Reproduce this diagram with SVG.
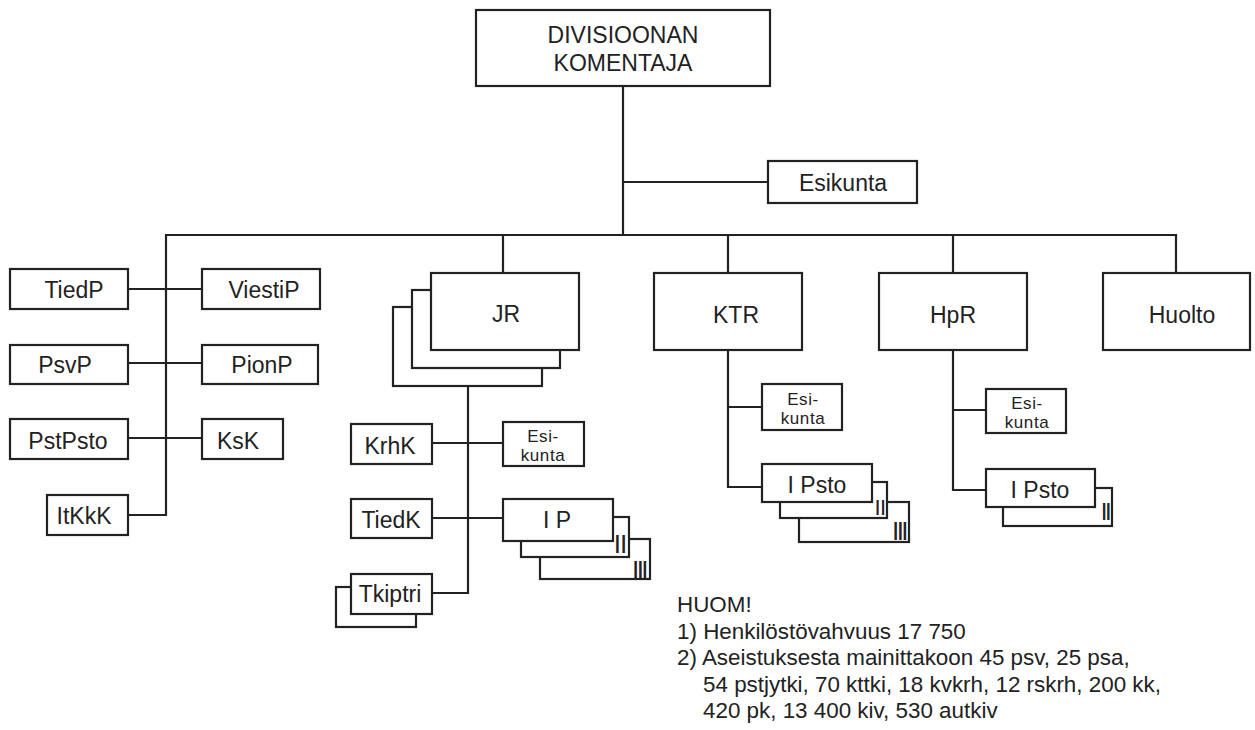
<svg xmlns="http://www.w3.org/2000/svg" width="1255" height="730" viewBox="0 0 1255 730">
<style>
.b{fill:#fff;stroke:#222;stroke-width:2.2}
.c{fill:none;stroke:#222;stroke-width:2.2}
text{font-family:"Liberation Sans",Arial,sans-serif;fill:#222;font-size:23px;text-anchor:middle}
.s{font-size:17px;letter-spacing:0.6px}
.n{font-size:22.4px;text-anchor:start}
.r{font-size:26px}
</style>
<rect width="1255" height="730" fill="#fff"/>
<g id="connectors">
<path class="c" d="M623 86V235M623 182H768M128 515H166V235H1176V273M503 235V273M728 235V273M953 235V273"/>
<path class="c" d="M128 289H202M128 363H202M128 438H202"/>
<path class="c" d="M468 386V593H432M432 443H503M432 518H503"/>
<path class="c" d="M728 350V487H762M728 407H762"/>
<path class="c" d="M953 350V490H986M953 410H986"/>
</g>
<g id="komentaja"><rect class="b" x="476" y="10" width="294" height="76"/><text x="623" y="43">DIVISIOONAN</text><text x="623" y="71">KOMENTAJA</text></g>
<g id="esikunta"><rect class="b" x="768" y="161" width="149" height="42"/><text x="843" y="191">Esikunta</text></g>
<g id="tiedp"><rect class="b" x="10" y="269" width="118" height="40"/><text x="74" y="298">TiedP</text></g>
<g id="viestip"><rect class="b" x="202" y="269" width="118" height="40"/><text x="264" y="298">ViestiP</text></g>
<g id="psvp"><rect class="b" x="10" y="345" width="118" height="39"/><text x="65" y="373">PsvP</text></g>
<g id="pionp"><rect class="b" x="202" y="345" width="116" height="39"/><text x="262" y="373">PionP</text></g>
<g id="pstpsto"><rect class="b" x="10" y="419" width="118" height="40"/><text x="68" y="449">PstPsto</text></g>
<g id="ksk"><rect class="b" x="202" y="419" width="81" height="40"/><text x="238" y="449">KsK</text></g>
<g id="itkkk"><rect class="b" x="47" y="495" width="81" height="40"/><text x="84" y="524">ItKkK</text></g>
<g id="jr"><rect class="b" x="393" y="307" width="149" height="79"/><rect class="b" x="412" y="290" width="148" height="78"/><rect class="b" x="431" y="273" width="148" height="77"/><text x="506" y="322">JR</text></g>
<g id="ktr"><rect class="b" x="654" y="273" width="148" height="77"/><text x="736" y="323">KTR</text></g>
<g id="hpr"><rect class="b" x="879" y="273" width="148" height="77"/><text x="953" y="323">HpR</text></g>
<g id="huolto"><rect class="b" x="1103" y="273" width="147" height="77"/><text x="1182" y="323">Huolto</text></g>
<g id="krhk"><rect class="b" x="351" y="424" width="81" height="40"/><text x="390" y="454">KrhK</text></g>
<g id="jr-esikunta"><rect class="b" x="503" y="422" width="81" height="44"/><text class="s" x="543" y="442">Esi-</text><text class="s" x="543" y="461">kunta</text></g>
<g id="tiedk"><rect class="b" x="351" y="499" width="81" height="39"/><text x="391" y="528">TiedK</text></g>
<g id="ip"><rect class="b" x="540" y="539" width="110" height="40"/><text class="r" x="639" y="579" style="letter-spacing:-2.5px">III</text><rect class="b" x="521" y="517" width="108" height="40"/><text class="r" x="620" y="553" style="letter-spacing:-1px">II</text><rect class="b" x="503" y="499" width="110" height="42"/><text x="557" y="528">I P</text></g>
<g id="tkiptri"><rect class="b" x="336" y="587" width="80" height="40"/><rect class="b" x="351" y="574" width="81" height="40"/><text x="390" y="602">Tkiptri</text></g>
<g id="ktr-esikunta"><rect class="b" x="762" y="384" width="80" height="46"/><text class="s" x="803" y="405">Esi-</text><text class="s" x="803" y="424">kunta</text></g>
<g id="ktr-ipsto"><rect class="b" x="799" y="502" width="110" height="40"/><text class="r" x="899" y="540" style="letter-spacing:-2.5px">III</text><rect class="b" x="780" y="482" width="107" height="36"/><text class="r" x="880" y="515" style="font-size:22px;letter-spacing:-0.5px">II</text><rect class="b" x="762" y="464" width="110" height="38"/><text x="817" y="493">I Psto</text></g>
<g id="hpr-esikunta"><rect class="b" x="986" y="389" width="80" height="44"/><text class="s" x="1027" y="409">Esi-</text><text class="s" x="1027" y="428">kunta</text></g>
<g id="hpr-ipsto"><rect class="b" x="1003" y="488" width="109" height="38"/><text class="r" x="1105" y="520" style="font-size:24px;letter-spacing:-2.5px">II</text><rect class="b" x="986" y="469" width="109" height="38"/><text x="1040" y="498">I Psto</text></g>
<g id="note">
<text class="n" x="677" y="612">HUOM!</text>
<text class="n" x="677" y="639">1) Henkilöstövahvuus 17 750</text>
<text class="n" x="677" y="665">2) Aseistuksesta mainittakoon 45 psv, 25 psa,</text>
<text class="n" x="703" y="692">54 pstjytki, 70 kttki, 18 kvkrh, 12 rskrh, 200 kk,</text>
<text class="n" x="703" y="718">420 pk, 13 400 kiv, 530 autkiv</text>
</g>
</svg>
